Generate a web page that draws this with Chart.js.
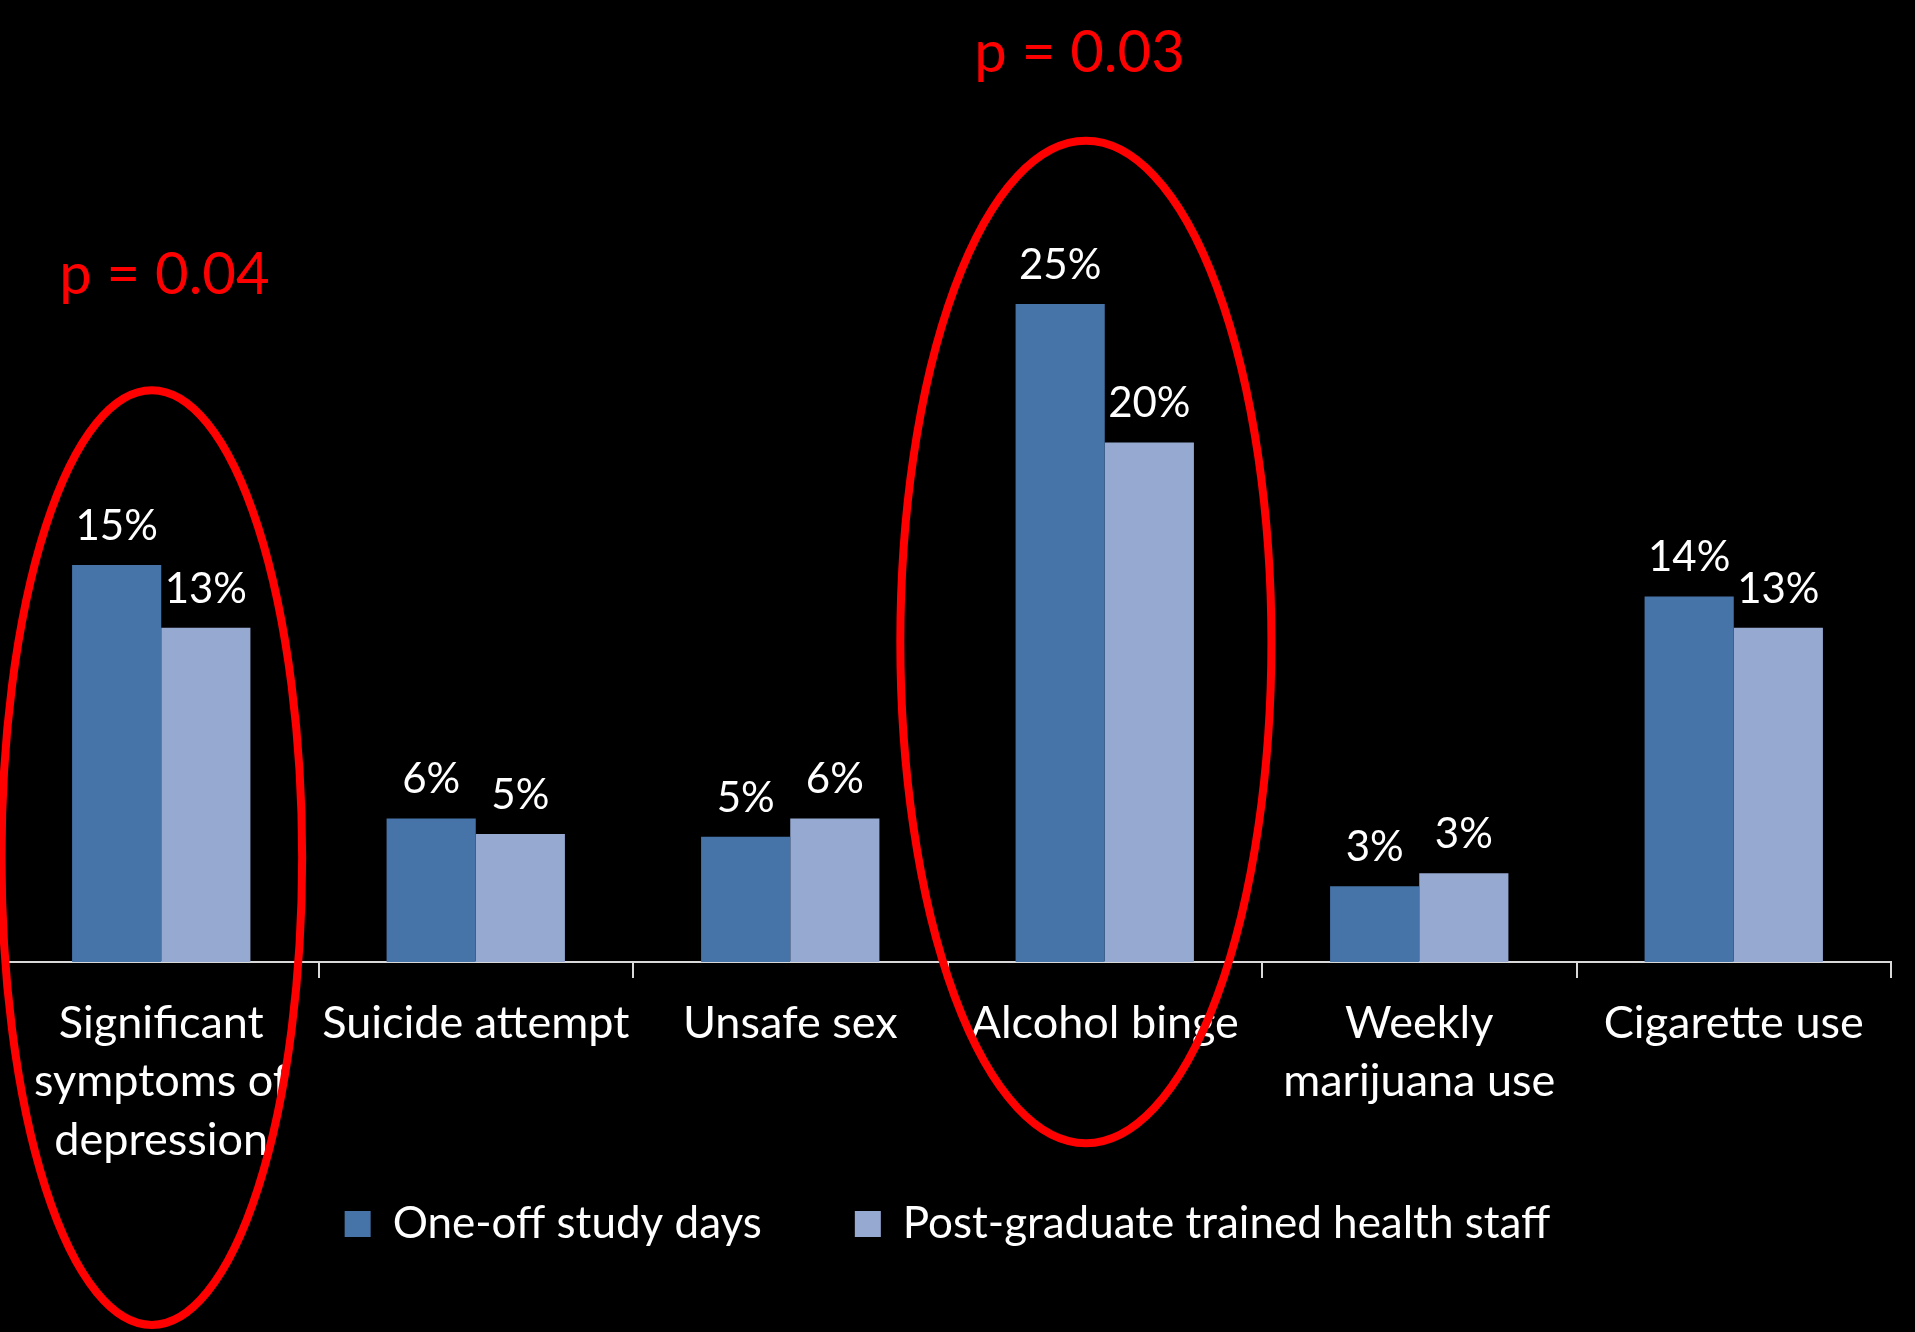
<!DOCTYPE html>
<html>
<head>
<meta charset="utf-8">
<script src="https://cdn.jsdelivr.net/npm/chart.js@4/dist/chart.umd.min.js"></script>
<style>
  html, body { margin: 0; padding: 0; background: #000; }
  #wrap { width: 1915px; height: 1332px; }
</style>
</head>
<body>
<div id="wrap"><canvas id="risks" width="1915" height="1332"></canvas></div>
<script>
// values (percent)
const categories = [
  ['Significant', 'symptoms of', 'depression'],
  'Suicide attempt',
  'Unsafe sex',
  'Alcohol binge',
  ['Weekly', 'marijuana use'],
  'Cigarette use'
];
const oneOffDays = [15.2, 5.5, 4.8, 25.2, 2.9, 14.0];
const postGradStaff = [12.8, 4.9, 5.5, 19.9, 3.4, 12.8];
const seriesNames = ['One-off study days', 'Post-graduate trained health staff'];

// red notes: category position and value height
const pNotes = [
  { text: 'p = 0.04', cat: 0.01, value: 26.3 },
  { text: 'p = 0.03', cat: 2.92, value: 34.8 }
];
const rings = [
  { cat: -0.03, half: 0.478, top: 21.9, bottom: -13.9 },
  { cat: 2.94, half: 0.59, top: 31.45, bottom: -6.94 }
];

const FONT = 'Lato';
const ctx = document.getElementById('risks');

const barLabels = {
  id: 'barLabels',
  afterDatasetsDraw(chart) {
    const c = chart.ctx;
    c.save();
    c.fillStyle = '#fff';
    c.font = '42px ' + FONT;
    c.textAlign = 'center';
    c.textBaseline = 'alphabetic';
    chart.data.datasets.forEach((ds, di) => {
      chart.getDatasetMeta(di).data.forEach((bar, i) => {
        c.fillText(Math.round(ds.data[i]) + '%', bar.x, bar.y - 25);
      });
    });
    c.restore();
  }
};

const notes = {
  id: 'notes',
  afterDraw(chart) {
    const c = chart.ctx;
    const x = chart.scales.x, y = chart.scales.y;
    const step = x.getPixelForValue(1) - x.getPixelForValue(0);
    c.save();
    c.strokeStyle = '#ff0000';
    c.lineWidth = 8;
    rings.forEach(r => {
      const top = y.getPixelForValue(r.top), bottom = y.getPixelForValue(r.bottom);
      c.beginPath();
      c.ellipse(x.getPixelForValue(r.cat), (top + bottom) / 2, r.half * step, (bottom - top) / 2, 0, 0, Math.PI * 2);
      c.stroke();
    });
    c.fillStyle = '#ff0000';
    c.font = '58px ' + FONT;
    c.textAlign = 'center';
    c.textBaseline = 'middle';
    pNotes.forEach(n => {
      c.fillText(n.text, x.getPixelForValue(n.cat), y.getPixelForValue(n.value));
    });
    c.restore();
  }
};

// legend padding is also the gap between items, so pull the row back up a bit
const liftLegend = {
  id: 'liftLegend',
  afterLayout(chart) {
    chart.legend.top -= 68;
    chart.legend.bottom -= 68;
  }
};

new Chart(ctx, {
  type: 'bar',
  data: {
    labels: categories,
    datasets: [{
      label: seriesNames[0],
      data: oneOffDays,
      backgroundColor: '#4674a9'
    }, {
      label: seriesNames[1],
      data: postGradStaff,
      backgroundColor: '#95a9d1'
    }]
  },
  options: {
    responsive: false,
    devicePixelRatio: 1,
    animation: false,
    layout: { padding: { top: 22, left: 4, right: 24, bottom: 8 } },
    datasets: { bar: { barPercentage: 1, categoryPercentage: 0.567 } },
    scales: {
      y: { display: false, min: 0, max: 36 },
      x: {
        border: { color: '#d9d9d9', width: 2 },
        grid: { drawOnChartArea: false, color: '#d9d9d9', lineWidth: 2, tickLength: 16 },
        ticks: {
          color: '#fff',
          font: { family: FONT, size: 45, lineHeight: 1.3 },
          padding: 16,
          autoSkip: false,
          maxRotation: 0,
          minRotation: 0
        },
        afterFit(scale) { scale.height = 215; }
      }
    },
    plugins: {
      tooltip: { enabled: false },
      legend: {
        position: 'bottom',
        labels: {
          color: '#fff',
          font: { family: FONT, size: 44 },
          boxWidth: 26,
          boxHeight: 26,
          padding: 93
        }
      }
    }
  },
  plugins: [barLabels, notes, liftLegend]
});
</script>
</body>
</html>
